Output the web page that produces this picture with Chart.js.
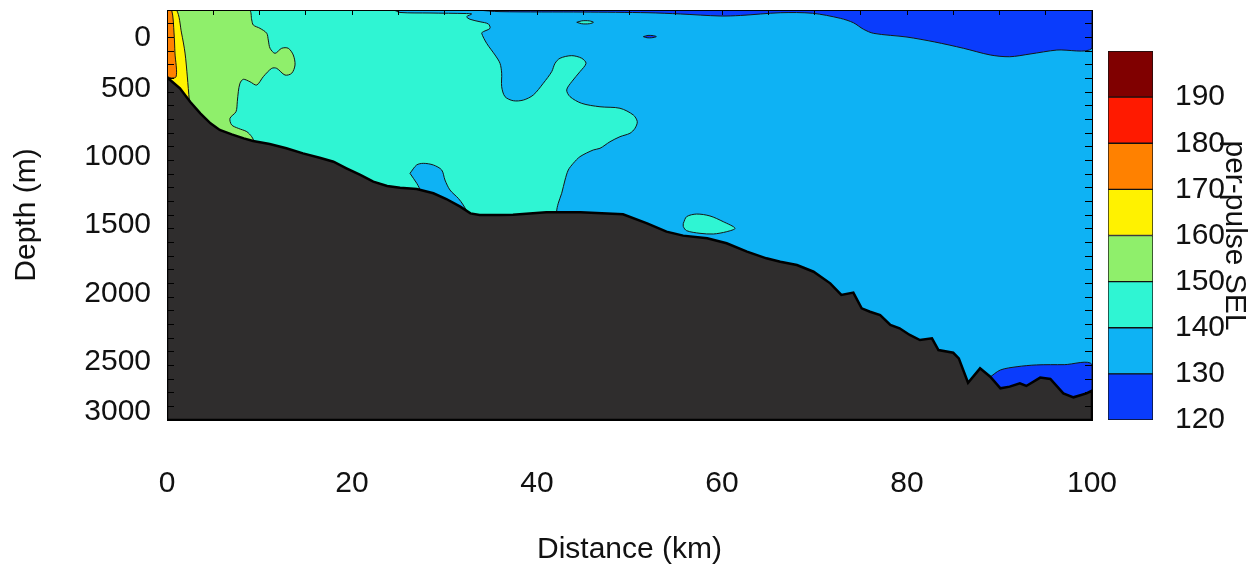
<!DOCTYPE html>
<html>
<head>
<meta charset="utf-8">
<script src="https://cdn.jsdelivr.net/npm/chart.js@4.4.1/dist/chart.umd.min.js"></script>
<style>
  html, body { margin: 0; padding: 0; background: #ffffff; }
  #wrap { position: relative; width: 1260px; height: 566px; }
  #section { position: absolute; left: 0; top: 0; }
  #scale { position: absolute; left: 1095px; top: 0; }
</style>
</head>
<body>
<div id="wrap">
  <canvas id="section" width="1260" height="566"></canvas>
  <canvas id="scale" width="165" height="566"></canvas>
</div>
<script>
// ---- axis ticks ----
const DIST_TICKS  = [0, 20, 40, 60, 80, 100];                 // km
const DEPTH_TICKS = [0, 500, 1000, 1500, 2000, 2500, 3000];   // m
const SEL_LEVELS  = [120, 130, 140, 150, 160, 170, 180, 190, 200]; // dB band edges
const SEL_COLORS  = ['#0a3cfc', '#0eb2f4', '#2ff5d3', '#8fef6b',
                     '#fff200', '#ff8100', '#ff1a00', '#800000'];

// ---- bathymetry along the transect (km, m) ----
const BATHY_KM = [0, 1.4, 2.5, 3.6, 4.7, 5.7, 7.0, 8.3, 9.3, 11.1, 12.9, 14.7, 16.5, 18.0,
  19.4, 20.9, 22.3, 23.8, 25.2, 27.0, 28.8, 30.2, 31.7, 32.8, 33.8, 36.0, 37.4, 41.0, 44.7,
  49.3, 51.9, 54.0, 55.8, 58.4, 60.5, 62.7, 64.8, 66.3, 68.1, 69.9, 71.7, 72.9, 74.2, 75.1,
  76.0, 77.1, 78.2, 79.2, 80.3, 81.4, 82.7, 83.4, 85.0, 85.6, 86.6, 87.9, 89.0, 90.1, 91.1,
  92.2, 92.9, 94.4, 95.5, 96.9, 98.0, 99.4, 100];
const BATHY_M = [492, 573, 671, 756, 829, 878, 910, 939, 959, 980, 1012, 1049, 1081, 1110,
  1158, 1207, 1256, 1288, 1300, 1310, 1341, 1383, 1439, 1488, 1500, 1500, 1498, 1480, 1480,
  1495, 1561, 1622, 1651, 1670, 1707, 1768, 1817, 1842, 1866, 1915, 2000, 2085, 2068, 2183,
  2208, 2232, 2305, 2329, 2378, 2415, 2402, 2488, 2508, 2549, 2727, 2622, 2683, 2768, 2756,
  2731, 2751, 2690, 2700, 2805, 2834, 2805, 2786];

// ---- SEL contour regions, [km, m] outlines ----
const WATER_130 = [[0, 0], [100, 0], [100, 3000], [0, 3000]];

const SURFACE_120 = [[33.5, 0], [36, 12], [45, 15], [52, 20], [55.5, 29], [59.8, 44], [62, 40],
  [66.3, 20], [69.8, 24], [72.8, 61], [74.2, 93], [75.3, 141], [76.4, 171], [80.0, 198],
  [83.0, 234], [86.1, 280], [89.0, 329], [91.1, 342], [93.3, 322], [96.2, 293], [100, 280],
  [100, 0]];

const DEEP_120 = [[88.9, 2690], [90.1, 2634], [91.9, 2610], [94.0, 2597], [97.0, 2595],
  [100, 2595], [100, 3000], [88.9, 3000]];

const MAIN_140 = [[0, 0], [24.43, 0], [25.19, 18], [28.43, 22], [32.4, 26], [32.94, 29],
  [32.4, 49], [32.76, 68], [33.84, 86], [34.74, 102], [34.92, 134], [34.19, 159], [34.02, 170],
  [34.56, 244], [35.46, 329], [36.0, 390], [36.18, 463], [36.18, 561], [36.54, 634],
  [37.44, 664], [38.52, 659], [39.6, 622], [40.68, 536], [41.59, 451], [41.95, 390],
  [42.49, 353], [43.75, 334], [44.83, 353], [45.3, 390], [44.65, 451], [43.75, 525],
  [43.21, 585], [43.57, 634], [44.83, 683], [46.81, 708], [48.97, 719], [50.41, 768],
  [50.84, 817], [50.59, 866], [50.05, 902], [48.97, 927], [47.89, 964], [46.81, 1012],
  [46.09, 1024], [44.65, 1073], [43.92, 1122], [43.38, 1171], [43.03, 1244], [42.67, 1341],
  [42.3, 1414], [42.13, 1478], [42.5, 1600], [0, 1600]];

const POCKET_130 = [[26.27, 1195], [26.99, 1134], [27.71, 1122], [28.79, 1134], [29.7, 1171],
  [30.05, 1244], [30.59, 1317], [31.49, 1378], [32.03, 1427], [32.5, 1490], [32.6, 1560],
  [28.2, 1400], [27.0, 1268]];

const LENS_140 = [[55.82, 1561], [56.18, 1512], [57.26, 1493], [58.7, 1507], [60.14, 1549],
  [61.41, 1597], [60.51, 1622], [59.06, 1639], [57.62, 1634], [56.18, 1615], [55.82, 1585]];

const SPECK_140 = [[44.3, 90], [44.8, 80], [45.2, 78], [45.7, 80], [46.1, 90], [45.7, 100],
  [45.2, 102], [44.8, 100]];

const SPECK_120 = [[51.5, 195], [52.0, 186], [52.6, 188], [52.9, 195], [52.4, 203], [51.9, 203]];

const NEAR_150 = [[0, 0], [8.86, 0], [9.16, 73], [9.33, 110], [10.05, 134], [10.78, 170],
  [10.95, 220], [11.14, 280], [11.68, 317], [12.4, 280], [13.11, 280], [13.65, 329],
  [13.84, 402], [13.48, 463], [12.76, 476], [11.86, 427], [11.32, 427], [10.41, 488],
  [9.7, 549], [8.97, 525], [8.25, 507], [7.89, 536], [7.71, 598], [7.6, 671], [7.46, 744],
  [6.81, 792], [6.99, 841], [7.71, 866], [8.62, 890], [9.16, 927], [9.4, 960], [9.7, 1020],
  [0, 1020]];

const NEAR_160 = [[0, 0], [1.03, 0], [1.57, 168], [1.95, 315], [2.2, 490], [2.41, 658],
  [2.6, 760], [0, 760]];

const NEAR_170 = [[0, 0], [0.5, 0], [0.76, 168], [0.86, 315], [0.97, 490], [0, 480]];

// ---- drawing helpers ----
const FONT = { family: '"Liberation Sans", Arial, Helvetica, sans-serif', size: 30 };
const INK = '#111111';
const band = lo => SEL_COLORS[SEL_LEVELS.indexOf(lo)];
const closed = pts => pts.concat([pts[0]]).map(([x, y]) => ({ x, y }));

function area(label, pts, color, extra) {
  return Object.assign({
    label,
    data: closed(pts),
    backgroundColor: color,
    borderColor: '#161616',
    borderWidth: 1,
    fill: 'shape',
    pointRadius: 0,
    pointHoverRadius: 0,
    tension: 0.3
  }, extra || {});
}

const seabed = BATHY_KM.map((x, i) => [x, BATHY_M[i]]).concat([[100, 3000], [0, 3000]]);

// listed bottom layer first
const layers = [
  area('130-140 dB', WATER_130, band(130), { borderWidth: 0, tension: 0 }),
  area('120-130 dB surface', SURFACE_120, band(120)),
  area('120-130 dB deep', DEEP_120, band(120)),
  area('140-150 dB', MAIN_140, band(140)),
  area('130-140 dB pocket', POCKET_130, band(130)),
  area('140-150 dB lens', LENS_140, band(140)),
  area('140-150 dB speck', SPECK_140, band(140)),
  area('120-130 dB speck', SPECK_120, band(120)),
  area('150-160 dB', NEAR_150, band(150)),
  area('160-170 dB', NEAR_160, band(160)),
  area('170-180 dB', NEAR_170, band(170)),
  area('Seabed', seabed, '#2f2d2d', { borderColor: '#000000', borderWidth: 2.5, tension: 0 })
];
layers.forEach((ds, i) => { ds.order = layers.length - i; });

const minorTicks = (max, step) => {
  const out = [];
  for (let v = 0; v <= max; v += step) out.push({ value: v });
  return out;
};

const frame = { display: true, color: '#000000', width: 1, z: 1 };
const noOverhang = s => { s.paddingTop = 0; s.paddingBottom = 0; s.paddingLeft = 0; s.paddingRight = 0; };

new Chart(document.getElementById('section'), {
  type: 'line',
  data: { datasets: layers },
  options: {
    responsive: false,
    animation: false,
    events: [],
    layout: { padding: { left: 0, right: 168, top: 0, bottom: 0 } },
    plugins: { legend: { display: false }, tooltip: { enabled: false } },
    scales: {
      x: {
        type: 'linear', position: 'bottom', min: 0, max: 100,
        afterBuildTicks: s => { s.ticks = DIST_TICKS.map(v => ({ value: v })); },
        afterFit: s => { s.height = 146; noOverhang(s); },
        grid: { drawOnChartArea: false, drawTicks: false },
        border: frame,
        ticks: { padding: 46, font: FONT, color: INK, maxRotation: 0, autoSkip: false },
        title: { display: true, text: 'Distance (km)', color: INK,
                 font: Object.assign({}, FONT, { lineHeight: 1.07 }), padding: { top: 0, bottom: 0 } }
      },
      xTop: {
        type: 'linear', position: 'top', min: 0, max: 100,
        afterBuildTicks: s => { s.ticks = minorTicks(100, 5); },
        afterFit: s => { s.height = 10; noOverhang(s); },
        grid: { drawOnChartArea: false, drawTicks: true, tickLength: -5, color: '#000', z: 1 },
        border: frame,
        ticks: { display: false }
      },
      y: {
        type: 'linear', position: 'left', min: 0, max: 3000, reverse: true,
        afterBuildTicks: s => { s.ticks = minorTicks(3000, 100); },
        afterFit: s => { s.width = 167; noOverhang(s); },
        grid: { drawOnChartArea: false, drawTicks: true, tickLength: -7, color: '#000', z: 1 },
        border: frame,
        ticks: {
          autoSkip: false, padding: 23, labelOffset: 10, font: FONT, color: INK,
          callback: v => {
            if (!DEPTH_TICKS.includes(v)) return '';
            if (v === DEPTH_TICKS[0]) return ['', String(v)];
            if (v === DEPTH_TICKS[DEPTH_TICKS.length - 1]) return [String(v), ''];
            return String(v);
          }
        },
        title: { display: true, text: 'Depth (m)', color: INK, font: FONT, padding: { top: 9, bottom: 0 } }
      },
      yRight: {
        type: 'linear', position: 'right', min: 0, max: 3000, reverse: true,
        afterBuildTicks: s => { s.ticks = minorTicks(3000, 100); },
        afterFit: s => { s.width = 0; noOverhang(s); },
        grid: { drawOnChartArea: false, drawTicks: true, tickLength: -7, color: '#000', z: 1 },
        border: frame,
        ticks: { display: false }
      }
    }
  }
});

// ---- colour scale ----
const bandSets = SEL_COLORS.map((c, i) => ({
  label: SEL_LEVELS[i] + '-' + SEL_LEVELS[i + 1],
  data: [[SEL_LEVELS[i], SEL_LEVELS[i + 1]]],
  backgroundColor: c,
  borderColor: '#111111',
  borderWidth: 1,
  borderSkipped: false,
  barPercentage: 1,
  categoryPercentage: 1,
  grouped: false
}));

new Chart(document.getElementById('scale'), {
  type: 'bar',
  data: { labels: [''], datasets: bandSets },
  options: {
    responsive: false,
    animation: false,
    events: [],
    layout: { padding: { left: 13, right: 0, top: 51, bottom: 146 } },
    plugins: { legend: { display: false }, tooltip: { enabled: false } },
    scales: {
      x: { display: false },
      y: {
        position: 'right', min: SEL_LEVELS[0], max: SEL_LEVELS[SEL_LEVELS.length - 1],
        afterBuildTicks: s => {
          s.ticks = SEL_LEVELS.slice(0, -1).map(v => ({ value: v }));
        },
        afterFit: s => { s.width = 107; },
        grid: { display: false },
        border: { display: false },
        ticks: { padding: 14, font: FONT, color: INK, autoSkip: false },
        title: { display: true, text: 'per-pulse SEL', color: INK, font: FONT, padding: { top: 8, bottom: 0 } }
      }
    }
  }
});
</script>
</body>
</html>
